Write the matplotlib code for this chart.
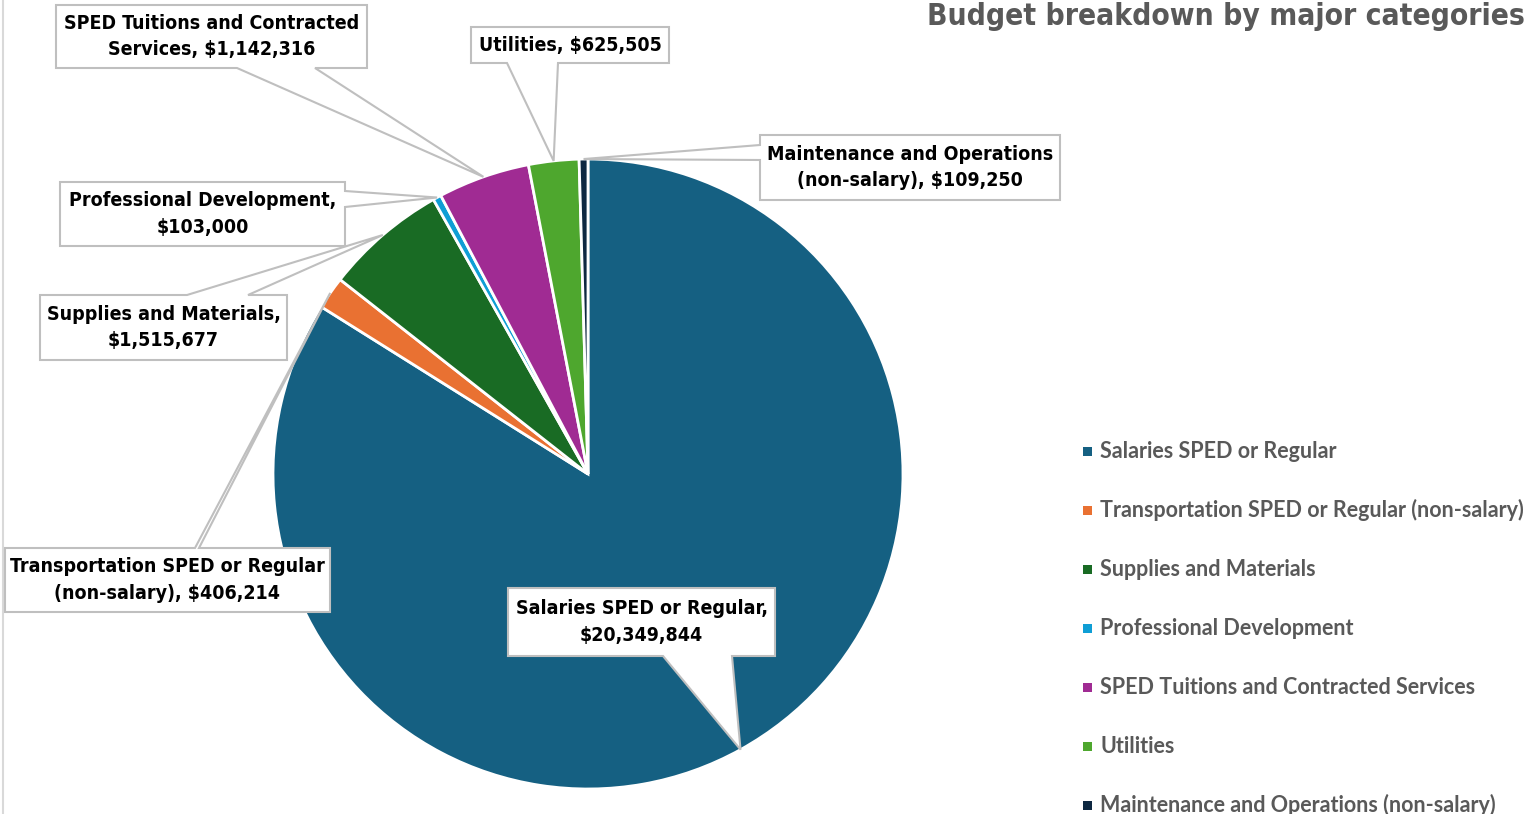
import numpy as np
import matplotlib.pyplot as plt
from matplotlib.patches import Polygon, Rectangle

categories = ['Salaries SPED or Regular',
              'Transportation SPED or Regular (non-salary)',
              'Supplies and Materials',
              'Professional Development',
              'SPED Tuitions and Contracted Services',
              'Utilities',
              'Maintenance and Operations (non-salary)']
amounts = [20349844, 406214, 1515677, 103000, 1142316, 625505, 109250]
callout_texts = ['Salaries SPED or Regular,\n$20,349,844',
                 'Transportation SPED or Regular\n(non-salary), $406,214',
                 'Supplies and Materials,\n$1,515,677',
                 'Professional Development,\n$103,000',
                 'SPED Tuitions and Contracted\nServices, $1,142,316',
                 'Utilities, $625,505',
                 'Maintenance and Operations\n(non-salary), $109,250']
colors = ['#156082', '#E97132', '#196B24', '#0F9ED5', '#A02B93', '#4EA72E', '#0E2841']

W, H = 1532, 814
# callout boxes in pixels from top-left: (x0, y0, x1, y1), side of pointer, pointer base span
boxes = [((508, 588, 775, 656), 'bottom', (663, 732)),
         ((5, 548, 330, 612), 'top', (195, 199)),
         ((40, 295, 287, 360), 'top', (187, 248)),
         ((60, 182, 345, 246), 'right', (191, 207)),
         ((56, 5, 367, 68), 'bottom', (237, 315)),
         ((471, 27, 669, 63), 'bottom', (507, 558)),
         ((760, 135, 1060, 200), 'left', (145, 160))]

label_font = ['DejaVu Sans']
legend_font = ['Lato', 'DejaVu Sans']

fig = plt.figure(figsize=(W / 100, H / 100), dpi=100)
ax = fig.add_axes([0, 0, 1, 1])

cx, cy, r = 588, H - 474, 315
wedges, _ = ax.pie(amounts, colors=colors, startangle=90, counterclock=False,
                   center=(cx, cy), radius=r,
                   wedgeprops=dict(edgecolor='white', linewidth=2))
ax.set_xlim(0, W)
ax.set_ylim(0, H)
ax.set_aspect('equal')
ax.axis('off')


def Y(p):
    return H - p


for w, txt, (box, side, base) in zip(wedges, callout_texts, boxes):
    mid = np.deg2rad((w.theta1 + w.theta2) / 2)
    tx = cx + r * np.cos(mid)
    ty = H - (cy + r * np.sin(mid))
    x0, y0, x1, y1 = box
    a, b = base
    pts = [(x0, y0)]
    if side == 'top':
        pts += [(a, y0), (tx, ty), (b, y0)]
    pts += [(x1, y0)]
    if side == 'right':
        pts += [(x1, a), (tx, ty), (x1, b)]
    pts += [(x1, y1)]
    if side == 'bottom':
        pts += [(b, y1), (tx, ty), (a, y1)]
    pts += [(x0, y1)]
    if side == 'left':
        pts += [(x0, b), (tx, ty), (x0, a)]
    poly = Polygon([(px, Y(py)) for px, py in pts], closed=True,
                   facecolor='white', edgecolor='#BFBFBF', linewidth=1.5, zorder=5)
    ax.add_patch(poly)
    ax.text((x0 + x1) / 2, Y((y0 + y1) / 2), txt, ha='center', va='center',
            fontsize=14, fontweight='bold', family=label_font, fontstretch='condensed',
            color='black', linespacing=1.5, zorder=6)

# legend
for i, (cat, col) in enumerate(zip(categories, colors)):
    yc = 451 + 59 * i
    ax.add_patch(Rectangle((1083, Y(yc + 4.5)), 9, 9, facecolor=col, edgecolor='none'))
    ax.text(1100, Y(yc + 7), cat, ha='left', va='baseline', fontsize=15.5,
            fontweight='bold', family=legend_font, color='#595959')

ax.text(1525, Y(25), 'Budget breakdown by major categories', ha='right', va='baseline',
        fontsize=21.5, fontweight='bold', family=label_font, fontstretch='condensed',
        color='#595959')

ax.plot([3, 3], [0, H], color='#D9D9D9', linewidth=1.5)

fig.savefig('out.png', dpi=100)
